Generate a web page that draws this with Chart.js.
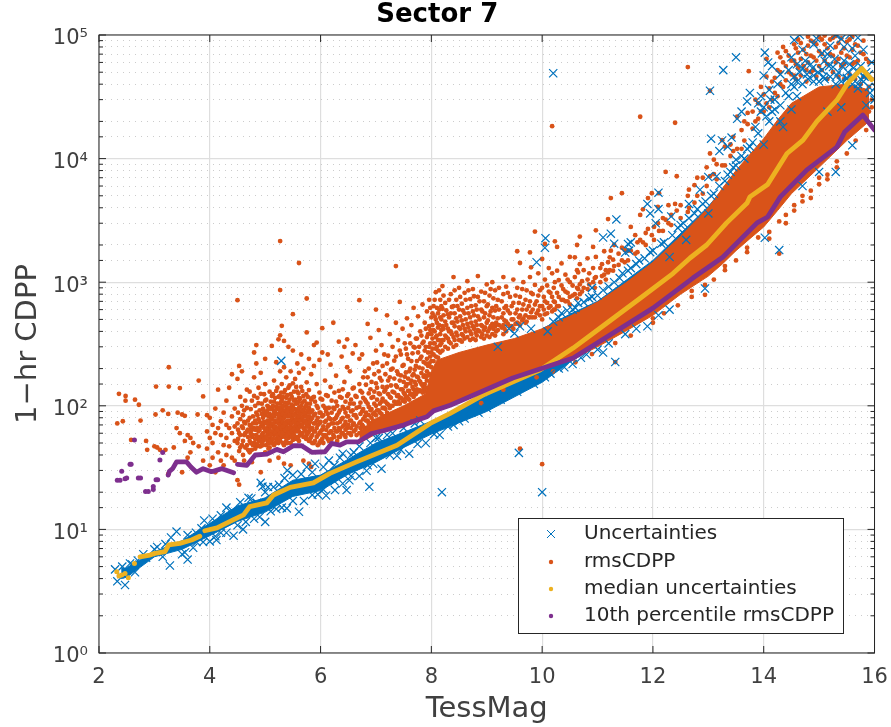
<!DOCTYPE html>
<html>
<head>
<meta charset="utf-8">
<title>Sector 7</title>
<script src="https://cdn.jsdelivr.net/npm/chart.js@4/dist/chart.umd.js"></script>
<style>
html, body { margin: 0; padding: 0; background: #fff; }
canvas { display: block; }
</style>
</head>
<body>
<canvas id="grafico" width="891" height="727"></canvas>
<script>
const legendLabels = ['Uncertainties', 'rmsCDPP', 'median uncertainties', '10th percentile rmsCDPP'];
const yTickLabels = { 1: '10⁰', 10: '10¹', 100: '10²', 1000: '10³', 10000: '10⁴', 100000: '10⁵' };

// median uncertainties
const medianDotsX = [2.32, 2.36, 2.41, 2.47, 2.53, 2.64];
const medianDotsY = [4.55, 4.2, 4.27, 4.4, 4.07, 5.3];
const medianX = [2.74, 2.92, 3.01, 3.19, 3.26, 3.46, 3.67, 3.82, null, 3.91, 4.13, 4.43, 4.61, 4.72, 5.03, 5.15, 5.45, 5.87, 6.17, 6.65, 7.38, 7.98, 8.34, 8.93, 9.96, 10.56, 11.17, 11.77, 12.36, 12.67, 12.97, 13.33, 13.7, 13.75, 14.07, 14.42, 14.71, 14.96, 15.32, 15.5, 15.77, 15.95];
const medianY = [6.0, 6.2, 6.4, 6.6, 7.5, 7.7, 8.2, 8.8, null, 9.75, 10.3, 12, 13.1, 15.3, 16.4, 19, 21.9, 23.8, 28.4, 35.2, 48, 72, 86.7, 122, 195, 293, 468, 741, 1175, 1570, 2000, 3020, 4370, 4900, 6170, 11000, 14100, 20000, 29700, 39800, 53700, 43600];

// 10th percentile rmsCDPP
const percentileDotsX = [2.33, 2.38, 2.41, 2.47, 2.5, 2.56, 2.58, 2.64, 2.71, 2.75, 2.84, 2.89, 2.98, 2.98, 3.03, 3.06, 3.10, 3.15];
const percentileDotsY = [25, 25, 29.6, 25.7, 26, 33.7, 33.7, 52.8, 26, 26, 20.3, 20.3, 21, 22.2, 25.2, 25.2, 36.4, 41.9];
const percentileX = [3.25, 3.27, 3.33, 3.40, 3.58, 3.66, 3.76, 3.88, 4.03, 4.22, 4.43, null, 4.5, 4.67, 4.82, 5.03, 5.21, 5.33, 5.51, 5.66, 5.84, 6.08, 6.2, 6.35, 6.47, 6.68, 6.92, 7.13, 7.5, 7.74, 7.92, 8.04, 8.34, 9.47, 10.56, 12, 12.72, 13.26, 13.88, 14.07, 14.3, 14.78, 15.32, 15.46, 15.79, 16];
const percentileY = [27.5, 29.5, 31, 35.2, 35.2, 32, 29, 31, 29.3, 31, 28.7, null, 33.6, 33, 40, 40.6, 44.4, 42.5, 47.5, 47.5, 42, 42.5, 49.6, 48, 51, 51, 59.7, 62.8, 69.8, 76.6, 81.5, 91, 101, 168, 244, 617, 1080, 1590, 3020, 3370, 4900, 8100, 12400, 16400, 22500, 17000];

// dense core of rmsCDPP
const rmsBandX = [6.7, 7.0, 7.5, 7.9, 8.0, 8.1, 8.5, 9, 9.5, 10, 10.5, 11, 11.5, 12, 12.5, 13, 13.25, 13.5, 13.75, 14, 14.25, 14.5, 15, 15.5, 15.9];
const rmsBandLow = [50, 59, 69, 79, 88, 92, 112, 133, 168, 198, 232, 300, 400, 540, 800, 1120, 1400, 1800, 2250, 2800, 3800, 5200, 8500, 14000, 20000];
const rmsBandHigh = [62, 79, 100, 125, 190, 234, 270, 310, 350, 420, 530, 690, 980, 1450, 2350, 4000, 5700, 8000, 10800, 14500, 20500, 28000, 38000, 40000, 36000];

// dense core of the uncertainties
const errBandX = [2.4, 2.5, 3, 3.5, 4, 4.5, 5, 5.5, 6, 6.5, 7, 7.5, 8, 9, 10, 10.5, 11, 12, 13, 14, 15, 15.9];
const errBandLow = [4, 4.1, 6, 6.9, 8.9, 11.6, 13.8, 18.5, 20.6, 28, 35, 46, 59, 90, 155, 225, 310, 570, 1250, 3200, 10000, 22000];
const errBandHigh = [4.8, 4.9, 6.6, 8.1, 11.2, 15.5, 18, 25, 27.5, 37, 50, 61, 75, 120, 420, 550, 700, 1500, 4100, 14000, 36000, 36000];

// rmsCDPP scatter, columns of [x, y, y, ...]
const rmsColumns = [
  [2.33, 72], [2.36, 125], [2.43, 75], [2.48, 120, 110], [2.58, 53], [2.65, 112], [2.72, 102], [2.75, 76], [2.85, 52], [2.87, 44],
  [3.0, 47], [3.02, 85], [3.03, 143], [3.05, 46], [3.1, 44], [3.15, 92], [3.2, 44], [3.25, 86, 28], [3.26, 205, 143], [3.35, 46], [3.4, 66], [3.42, 88], [3.46, 139, 60], [3.5, 85, 29], [3.55, 83, 52], [3.6, 58, 38], [3.65, 55, 42], [3.7, 50], [3.78, 85], [3.8, 160, 47], [3.88, 119, 36],
  [3.95, 84, 62, 45], [4.0, 80, 55, 33], [4.05, 70, 50, 38], [4.1, 95, 60, 29], [4.15, 135, 66, 42], [4.2, 75, 58, 36], [4.25, 88, 48, 33], [4.3, 110, 70, 55, 40], [4.35, 140, 66, 47], [4.4, 180, 82, 60, 38], [4.45, 95, 68, 52, 36], [4.5, 715, 165, 72, 50, 25], [4.53, 210, 60, 43, 23],
  [4.58, 190, 100, 68, 48], [4.62, 92, 74, 58, 36], [4.67, 135, 96, 62, 48], [4.72, 130, 80, 70, 52, 42], [4.76, 110, 64, 56, 44, 35], [4.8, 270, 170, 120, 66, 50], [4.84, 310, 220, 88, 72, 58, 47], [4.88, 140, 105, 78, 62, 52], [4.92, 185, 125, 68, 56, 47, 29], [4.96, 95, 80, 70, 60, 52, 48], [5.0, 240, 150, 110, 84, 62, 56, 42],
  [5.04, 100, 92, 76, 66, 58, 52], [5.08, 130, 86, 74, 64, 54, 46, 36], [5.12, 305, 120, 96, 78, 70, 60, 50], [5.16, 160, 108, 90, 82, 66, 58, 48], [5.2, 225, 132, 98, 86, 74, 62, 54], [5.24, 345, 118, 94, 80, 72, 66, 56, 50, 38], [5.27, 2150, 864, 372, 190, 104, 88, 76, 62, 52], [5.3, 444, 150, 112, 96, 84, 72, 64, 56], [5.34, 335, 205, 128, 90, 80, 70, 58, 48, 34], [5.38, 170, 116, 98, 86, 74, 68, 60, 52], [5.42, 300, 140, 106, 92, 82, 72, 62, 55],
  [5.46, 190, 124, 96, 88, 76, 70, 58, 50, 33], [5.5, 551, 280, 152, 100, 84, 78, 66, 60, 53], [5.54, 165, 112, 94, 86, 74, 68, 56], [5.58, 220, 130, 105, 90, 80, 72, 64, 54], [5.61, 1430, 185, 116, 96, 84, 76, 62, 52], [5.65, 260, 142, 100, 88, 78, 70, 60], [5.69, 200, 120, 92, 82, 74, 66, 56, 36], [5.75, 738, 392, 155, 104, 88, 76, 68, 58], [5.79, 240, 134, 96, 82, 70, 62, 52, 34], [5.83, 180, 112, 90, 78, 66, 56, 32], [5.88, 310, 210, 118, 84, 72, 62, 50],
  [5.93, 325, 150, 100, 76, 66, 56], [5.98, 235, 128, 88, 72, 60, 50], [6.03, 425, 270, 112, 82, 64, 54], [6.08, 160, 96, 74, 58], [6.13, 260, 120, 86, 68, 54], [6.18, 215, 142, 78, 62], [6.23, 470, 96, 72, 58], [6.28, 175, 108, 80, 62], [6.33, 330, 132, 88, 66, 56],
  [6.38, 250, 116, 78, 60], [6.43, 300, 156, 94, 70, 58], [6.48, 345, 205, 120, 82, 66], [6.53, 190, 104, 76, 60], [6.58, 265, 138, 92, 70], [6.63, 310, 120, 84, 64], [6.7, 715, 240, 150, 98, 72, 60], [6.75, 260, 128, 90, 70], [6.8, 190, 112, 82, 66], [6.85, 460, 170, 104, 76, 66], [6.9, 355, 136, 92, 72],
  [6.95, 220, 118, 86, 76], [7.0, 600, 280, 152, 100, 84], [7.05, 410, 190, 126, 92], [7.1, 310, 160, 108, 86], [7.15, 260, 130, 96, 82], [7.2, 540, 220, 142, 104, 88], [7.25, 380, 170, 118, 96], [7.3, 300, 200, 130, 100], [7.36, 1350, 470, 250, 146, 104], [7.4, 340, 180, 122, 108], [7.43, 692, 280, 160, 116, 104],
  [7.48, 420, 210, 136, 110], [7.52, 320, 172, 124, 108], [7.56, 510, 260, 150, 118], [7.6, 370, 190, 132, 112], [7.64, 450, 230, 160, 124], [7.68, 620, 300, 180, 136, 118], [7.72, 350, 210, 148, 124], [7.76, 530, 270, 170, 130], [7.8, 400, 240, 156, 132], [7.84, 660, 320, 200, 146, 128], [7.88, 470, 280, 176, 150, 130], [7.92, 580, 360, 240, 190, 160],
  [7.96, 720, 440, 300, 220, 180], [8.0, 520, 380, 270, 230, 205], [8.04, 640, 410, 320, 260, 230], [8.08, 830, 500, 360, 290, 250], [8.12, 560, 430, 340, 280, 245], [8.16, 720, 520, 380, 310, 270], [8.2, 930, 610, 440, 340, 280], [8.25, 680, 480, 370, 300], [8.3, 550, 420, 350, 290], [8.35, 800, 560, 400, 320], [8.4, 1100, 640, 470, 360, 300], [8.45, 720, 510, 390, 310], [8.5, 900, 600, 430, 340],
  [8.55, 670, 490, 380, 330], [8.6, 820, 560, 420, 350], [8.65, 1020, 620, 460, 360], [8.7, 730, 520, 400, 340], [8.75, 880, 580, 440, 350], [8.8, 650, 480, 390, 340], [8.84, 1120, 760, 530, 410], [8.9, 840, 600, 450, 360], [8.95, 700, 520, 410, 350], [9.0, 960, 640, 470, 370], [9.05, 780, 540, 420, 360], [9.1, 1000, 620, 460, 380], [9.15, 860, 590, 440, 370], [9.2, 720, 510, 410], [9.3, 1100, 800, 560, 450, 380], [9.35, 920, 640, 480, 400], [9.42, 760, 560, 440],
  [9.48, 1050, 680, 500, 420], [9.55, 1780, 900, 600, 470], [9.6, 1430, 760, 540, 450], [9.66, 1000, 660, 510], [9.72, 860, 600, 480], [9.78, 1740, 1100, 700, 520], [9.8, 1320, 820, 570], [9.87, 2570, 950, 660, 520], [9.93, 1180, 780, 590], [10.0, 1540, 900, 640, 500], [10.05, 2040, 1050, 700, 550], [10.12, 1300, 840, 620], [10.18, 18300, 1180, 760, 580], [10.23, 2140, 1000, 690, 600], [10.27, 1930, 1240, 820, 640], [10.35, 1420, 940, 720], [10.42, 1150, 840, 700], [10.5, 1600, 1000, 760, 660],
  [10.59, 1590, 1100, 800], [10.63, 2000, 1250, 900, 740], [10.68, 2340, 1400, 960, 800], [10.75, 1250, 900], [10.82, 1560, 1050, 880], [10.92, 1930, 1300, 1000], [10.97, 2630, 1600, 1100], [11.05, 1300, 1000], [11.12, 1780, 1150], [11.19, 3240, 1450, 1200], [11.22, 1590, 1250], [11.24, 4790, 1800], [11.3, 2000, 1350], [11.44, 5250, 1900, 1500], [11.49, 1820, 1450], [11.6, 2800, 1800], [11.68, 2400, 1700],
  [11.77, 21800, 3500, 2200], [11.82, 3890, 2100], [11.91, 4790, 2700], [11.98, 5250, 2400], [12.09, 4070, 3000], [12.11, 5250, 2600], [12.23, 7800, 3200], [12.33, 3500, 2900], [12.4, 19500, 4300], [12.43, 7200, 3800], [12.63, 55000, 5000, 3700], [12.75, 6100, 4400], [12.9, 7000, 5200],
  [13.03, 35400, 11000, 7200], [13.15, 9000, 6800], [13.25, 14100, 8800], [13.4, 13000, 10500], [13.52, 21800, 12000], [13.6, 17000, 12000], [13.71, 23400, 19000], [13.73, 51000], [13.85, 30000, 20000], [13.95, 38000, 24000], [14.05, 64000, 46000, 28000], [14.15, 42000, 30000], [14.25, 72000, 52000, 32000], [14.35, 80000, 60000, 38000], [14.45, 68000, 50000], [14.55, 84000, 62000, 47000], [14.62, 92000, 72000, 54000], [14.72, 76000, 56000], [14.8, 97000, 82000, 60000], [14.9, 88000, 66000, 52000], [15.0, 96000, 74000, 56000], [15.1, 99000, 84000, 62000], [15.2, 92000, 70000], [15.3, 98000, 80000, 60000], [15.4, 94000, 72000, 56000], [15.5, 88000, 68000], [15.6, 97000, 76000, 58000], [15.7, 82000, 62000], [15.8, 90000, 70000, 46000], [15.9, 60000, 38000, 24000],
  // just below the 10th percentile curve
  [8.9, 105], [9.3, 135], [9.9, 170], [10.2, 190], [10.6, 225], [10.9, 262], [11.32, 226, 322], [11.6, 370], [12.0, 470, 510], [12.2, 560], [12.45, 650], [12.7, 760, 850], [12.94, 790, 950], [13.1, 1050], [13.3, 1250, 1350], [13.5, 1500], [13.7, 1750, 1900], [13.9, 2300], [14.1, 2550, 2250], [14.28, 1700, 3100], [14.4, 3500, 3000], [14.55, 3800, 4200], [14.7, 4500, 5000], [14.85, 5500, 4800], [15.0, 6200, 7000], [15.15, 7400, 6800], [15.32, 8500, 9500], [15.5, 11000], [15.66, 14000], [15.85, 17000, 20000],
  [9.6, 45], [10.0, 33.7]
];

// the crowded parts of the rmsCDPP cloud
const rmsCloudColumns = [
  [4.51, 88, 64, 54], [4.55, 118, 78, 58, 46], [4.6, 84, 66, 52, 40], [4.64, 110, 72, 60, 46], [4.69, 76, 64, 56, 44], [4.74, 94, 68, 60, 50], [4.78, 82, 72, 58, 48], [4.82, 100, 76, 64, 54, 45], [4.86, 116, 84, 66, 56, 49], [4.9, 92, 74, 64, 54, 47], [4.94, 104, 86, 72, 58, 50], [4.98, 124, 90, 74, 66, 54],
  [5.02, 112, 88, 72, 64, 56, 48], [5.06, 98, 82, 70, 60, 50, 45], [5.1, 108, 94, 80, 68, 58, 52], [5.14, 124, 100, 84, 72, 62, 54], [5.18, 116, 92, 76, 68, 60, 50], [5.22, 140, 104, 86, 76, 64, 58, 52], [5.26, 120, 96, 84, 70, 60, 54], [5.29, 128, 108, 90, 78, 66, 58], [5.32, 118, 100, 86, 74, 68, 60, 50], [5.36, 134, 106, 92, 82, 72, 64, 56], [5.4, 122, 104, 90, 76, 66, 58, 50], [5.44, 146, 112, 96, 84, 74, 66, 60],
  [5.48, 118, 102, 90, 80, 72, 62, 56], [5.52, 130, 110, 94, 84, 74, 64, 58], [5.56, 142, 104, 92, 78, 70, 62, 54], [5.6, 126, 108, 90, 82, 72, 66, 56], [5.63, 114, 98, 86, 76, 68, 58], [5.67, 132, 106, 92, 80, 70, 60], [5.71, 110, 96, 86, 76, 64, 56], [5.74, 124, 100, 82, 72, 62, 54], [5.77, 118, 92, 80, 68, 60], [5.81, 104, 88, 74, 64, 54], [5.85, 116, 92, 80, 66, 58, 50], [5.9, 108, 86, 72, 62, 52], [5.95, 96, 80, 70, 58, 48], [6.0, 114, 88, 74, 62, 52],
  [6.05, 100, 84, 68, 58, 50], [6.1, 122, 90, 76, 64, 56], [6.15, 96, 80, 70, 60, 52], [6.2, 110, 88, 72, 62, 54], [6.25, 128, 94, 78, 66, 56], [6.3, 100, 84, 72, 62, 52], [6.35, 118, 92, 74, 64, 56], [6.4, 136, 98, 80, 68, 60], [6.45, 108, 88, 74, 64, 56], [6.5, 124, 96, 82, 70, 60], [6.55, 112, 90, 76, 66, 58], [6.6, 140, 104, 84, 72, 62], [6.65, 118, 96, 80, 68, 58],
  [6.72, 132, 106, 86, 74, 66], [6.77, 170, 116, 94, 78, 68], [6.82, 148, 108, 88, 76], [6.87, 200, 126, 98, 84, 72], [6.92, 156, 116, 94, 80], [6.97, 180, 130, 104, 88], [7.02, 224, 140, 112, 92], [7.07, 168, 124, 104, 88], [7.12, 210, 142, 114, 96], [7.17, 180, 134, 108, 94], [7.22, 254, 160, 124, 102], [7.27, 196, 146, 116, 100], [7.33, 232, 166, 128, 108], [7.38, 190, 142, 120, 104], [7.45, 260, 176, 136, 116], [7.5, 214, 156, 128, 112], [7.54, 290, 186, 144, 118], [7.58, 240, 166, 132, 114], [7.62, 320, 200, 152, 124], [7.66, 266, 176, 142, 122], [7.7, 296, 196, 156, 128], [7.74, 350, 230, 172, 136], [7.78, 300, 204, 160, 134], [7.82, 370, 250, 184, 150, 132], [7.86, 330, 226, 172, 140], [7.9, 420, 300, 220, 170, 140], [7.94, 380, 270, 210, 176],
  [7.98, 620, 410, 320, 250], [8.02, 560, 450, 350, 290], [8.06, 720, 530, 400, 320], [8.1, 620, 470, 370, 300], [8.14, 860, 600, 450, 340], [8.18, 640, 500, 410, 320], [8.22, 780, 540, 420, 340], [8.27, 590, 450, 360], [8.32, 720, 520, 400, 330], [8.37, 630, 470, 380], [8.42, 860, 560, 440, 340], [8.47, 640, 480, 370], [8.52, 760, 530, 420, 340], [8.57, 590, 450, 370], [8.62, 720, 500, 400], [8.67, 860, 560, 430], [8.72, 640, 470, 380], [8.77, 770, 540, 420], [8.82, 600, 450, 370], [8.87, 700, 500, 400], [8.92, 580, 440, 380], [8.97, 820, 560, 430], [9.02, 660, 490, 400], [9.07, 880, 580, 440], [9.12, 740, 520, 420], [9.17, 640, 470, 400], [9.22, 900, 600, 450], [9.27, 700, 520, 430], [9.32, 620, 490, 420], [9.38, 820, 590, 460],
  [9.45, 640, 500, 440], [9.52, 780, 560, 460], [9.58, 680, 520, 460], [9.64, 880, 600, 490], [9.7, 720, 540, 470], [9.76, 640, 520], [9.83, 800, 600, 520], [9.9, 700, 560], [9.96, 860, 640, 540], [10.03, 760, 600], [10.09, 940, 680, 560], [10.15, 820, 640], [10.21, 900, 700, 600], [10.3, 1040, 760, 640], [10.38, 880, 720], [10.46, 1050, 820, 700], [10.55, 940, 780], [10.65, 1200, 880], [10.72, 1020, 840], [10.85, 1180, 960], [10.95, 1080, 900], [11.08, 1400, 1120], [11.15, 1250, 1050], [11.28, 1520, 1240], [11.38, 1700, 1380], [11.55, 1800, 1500], [11.72, 2100, 1750], [11.87, 2500, 2000], [12.02, 2800, 2200], [12.18, 3300, 2600], [12.28, 4200, 3000], [12.5, 4200, 3300], [12.65, 5600, 4000], [12.8, 7000, 5000], [12.97, 8500, 6000], [13.1, 9800, 7500], [13.3, 12500, 8800], [13.45, 15000, 11500], [13.65, 20000, 14000], [13.8, 24000, 17500], [13.9, 28000, 21000], [14.0, 33000, 24000], [14.1, 37000, 26000], [14.2, 45000, 34000],
  [14.3, 66000, 50000, 40000], [14.4, 74000, 56000, 43000], [14.5, 62000, 48000], [14.58, 78000, 58000, 44000], [14.67, 86000, 64000, 47000], [14.77, 70000, 52000, 42000], [14.85, 90000, 68000, 50000], [14.95, 84000, 62000, 46000], [15.05, 92000, 70000, 52000], [15.15, 78000, 58000, 44000], [15.25, 95000, 68000, 50000], [15.35, 86000, 64000, 46000], [15.45, 78000, 58000, 44000], [15.55, 92000, 66000, 48000], [15.65, 84000, 60000, 44000], [15.75, 72000, 52000, 40000], [15.85, 64000, 46000, 30000], [15.95, 44000, 30000, 26000]
];

// Uncertainties scatter, pairs [x, y]
const errPoints = [
  [10.2, 49000], [8.19, 20], [10, 20], [9.58, 41.6], [5.29, 231], [4.92, 23.8], [4.95, 22.2], [6.88, 22.1], [6.47, 20.8], [6.26, 20.8], [6.52, 25], [6.83, 29.8], [7.38, 39.4], [5.61, 13.9], [5.39, 14.8], [4.43, 8.9], [3.28, 5.1], [3.6, 5.7], [3.4, 9.6], [2.65, 4.5], [2.47, 3.55], [2.33, 3.8], [2.56, 5.3], [2.29, 4.75], [3.88, 7.9], [3.76, 7.9], [4.12, 8.2], [3.55, 6.5], [3.15, 6], [2.85, 5.9],
  [11.32, 226], [14.28, 1820], [12.94, 890], [14.02, 2290], [13.03, 35400], [10.06, 2270], [10.05, 1900], [9.9, 1450], [11.1, 2300], [11.34, 3220], [11.24, 2470], [11.3, 2050], [11.5, 1740], [11.55, 2040], [11.57, 1800], [11.6, 2100], [11.9, 4300], [11.95, 3600], [12.05, 3000], [12.1, 3900], [12.33, 3400], [12.55, 3000], [12.65, 4300], [13.0, 7100], [13.05, 14500], [13.2, 11500], [13.25, 14000], [13.35, 12500], [13.42, 14800], [13.6, 24000], [13.7, 29000], [13.52, 21000], [13.75, 34000], [14.0, 47000],
  [13.4, 7800], [13.65, 10000], [14.0, 13000], [14.15, 24000], [14.2, 30000], [14.3, 20000], [13.9, 28000], [13.95, 32000], [12.1, 5300], [12.85, 5600], [13.15, 7200], [13.5, 9800], [13.75, 12500],
  [13.27, 52000], [13.5, 66000], [14.02, 72000], [14.08, 60000], [14.15, 56000], [14.5, 66000], [14.6, 58000], [14.7, 76000], [14.75, 62000], [14.9, 84000], [14.95, 94000], [15.05, 71000], [15.2, 82000], [15.3, 100000], [15.4, 93000], [15.55, 100000], [15.6, 78000], [15.7, 95000], [15.8, 76000], [15.95, 60000], [16.02, 38000], [16.0, 30000], [15.85, 50000], [15.7, 37000], [15.5, 45000], [14.9, 47000], [14.5, 40000], [14.3, 48000], [14.65, 100000], [14.55, 91000], [15.1, 62000], [15.25, 55000], [15.35, 50000], [15.45, 62000], [15.92, 34000], [15.75, 44000],
  [14.0, 26000], [14.35, 18000], [14.5, 25000], [14.6, 32000], [15.6, 40000], [15.15, 24000], [15.4, 26000], [15.85, 27000], [14.7, 6000], [15.0, 7800], [15.3, 7800], [15.6, 12800], [12.6, 2200], [13.0, 3600], [12.3, 1600], [10.3, 520], [10.6, 620], [10.9, 900], [9.8, 420], [9.5, 385], [9.2, 300], [10.1, 400],
  [9.4, 135], [9.1, 108], [8.7, 92], [8.5, 75], [8.3, 68], [9.7, 150], [10.05, 170], [10.4, 205], [10.8, 260], [11.1, 270], [11.5, 380], [11.9, 440], [12.3, 600],
  [5.05, 22], [5.4, 30], [5.75, 32], [5.9, 34], [6.15, 36], [6.4, 41], [6.7, 47], [7, 55], [7.2, 58], [7.7, 72], [4.7, 18], [4.3, 15], [3.9, 11.8], [3.3, 8.6], [3.0, 6.9], [2.7, 5.6], [4.6, 10], [5, 11.5], [5.3, 15], [5.7, 17], [6.1, 18.8], [6.4, 23.5], [6.7, 27], [7.1, 31], [7.6, 41], [7.9, 50], [8.15, 58], [3.5, 6.3], [3.7, 7.1], [4, 8], [4.3, 9.4], [4.8, 12.2],
  // edges of the blue band
  [2.42, 5], [2.6, 5.2], [2.8, 6.3], [3.05, 7.2], [3.2, 7.6], [3.6, 9], [3.75, 9.4], [3.85, 10.2], [4.05, 12.2], [4.2, 13], [4.4, 14.2], [4.55, 16.6], [4.75, 17.8], [4.85, 16.4], [5.0, 20], [5.15, 22], [5.25, 23], [5.35, 26], [5.5, 27.5], [5.65, 28], [5.85, 29], [6.05, 32], [6.25, 33], [6.35, 38], [6.55, 40], [6.6, 42], [6.9, 50], [7.05, 55], [7.3, 60], [7.5, 66], [7.8, 76],
  [4.1, 8.8], [4.2, 9.4], [4.5, 10.8], [4.65, 11.5], [4.9, 12.6], [5.1, 14], [5.2, 14.6], [5.5, 17], [5.85, 19], [5.95, 19.2], [6.05, 21], [6.25, 24.5], [6.55, 27], [6.85, 33], [6.95, 34], [7.25, 40], [7.45, 44], [7.75, 49], [8.05, 59], [8.4, 70], [8.6, 79], [8.85, 88], [9.0, 96], [9.25, 112], [9.55, 130], [9.85, 150], [10.15, 182], [10.3, 200], [10.55, 218], [10.7, 245], [11.0, 285], [11.2, 320], [11.7, 420], [12.1, 540],
  [9.4, 420], [9.6, 440], [10.2, 480], [10.45, 590], [10.75, 690], [10.9, 760], [11.1, 860], [11.3, 1000], [11.45, 1180], [11.6, 1300], [11.75, 1500], [11.95, 1750], [12.15, 2050], [12.45, 2750], [12.75, 3600], [12.95, 4500], [13.1, 5200], [13.3, 6600], [13.45, 8500], [13.6, 10500], [13.8, 13500], [13.85, 18000], [14.05, 22000], [14.2, 25000], [14.4, 34000], [14.6, 42000], [14.8, 44000], [15.0, 42000], [15.2, 46000], [15.4, 42000], [15.6, 47000], [15.8, 42000],
  [14.7, 54000], [14.85, 58000], [15.05, 52000], [15.15, 70000], [15.28, 64000], [15.45, 80000], [15.55, 58000], [15.65, 68000], [15.75, 56000], [15.9, 48000], [14.45, 52000], [14.25, 40000], [14.1, 36000], [13.95, 24000], [14.12, 30000],
  // heavier blue along the top of the core
  [10.35, 560], [10.55, 600], [10.65, 680], [10.85, 740], [11.0, 780], [11.2, 920], [11.4, 1080], [11.55, 1240], [11.7, 1400], [11.85, 1560], [12.0, 1800], [12.2, 2100], [12.35, 2400], [12.5, 2900], [12.65, 3300], [12.8, 3900], [12.9, 4300], [13.05, 5000], [13.2, 6000], [13.35, 7400], [13.5, 8800], [13.7, 12000], [13.9, 16000], [14.1, 20000], [14.3, 27000], [14.45, 32000], [14.55, 38000], [14.7, 40000], [14.9, 42000], [15.1, 44000], [15.3, 40000], [15.5, 44000], [15.7, 40000], [15.9, 38000],
  [14.55, 46000], [14.65, 50000], [14.78, 48000], [14.88, 54000], [14.98, 50000], [15.08, 46000], [15.18, 56000], [15.32, 47000], [15.42, 56000], [15.52, 50000], [15.62, 54000], [15.72, 50000], [15.82, 46000]
];

const flattenColumns = columns => columns.flatMap(([x, ...ys]) => ys.map(y => ({ x, y })));
const zipXY = (xs, ys) => xs.map((x, i) => ({ x, y: ys[i] }));

const azul = '#0072BD';
const laranja = '#D95319';
const amarelo = '#EDB120';
const roxo = '#7E2F8E';

const bandStyle = color => ({ showLine: true, pointRadius: 0, borderWidth: 1, borderColor: color, backgroundColor: color, tension: 0 });
const curveStyle = color => ({ showLine: true, spanGaps: false, borderColor: color, backgroundColor: color, borderWidth: 4.8, pointRadius: 0, borderJoinStyle: 'round', borderCapStyle: 'round' });
const dotStyle = color => ({ pointRadius: 2.5, borderWidth: 0, backgroundColor: color });

// inward ticks and the box round the axes, from the library's scales
const moldura = {
  id: 'moldura',
  afterDraw(chart) {
    const { ctx, chartArea: a, scales: { x, y } } = chart;
    ctx.save();
    ctx.strokeStyle = '#262626';
    ctx.lineWidth = 1;
    ctx.strokeRect(a.left, a.top, a.right - a.left, a.bottom - a.top);
    ctx.beginPath();
    x.ticks.forEach(t => {
      const px = x.getPixelForValue(t.value);
      ctx.moveTo(px, a.bottom); ctx.lineTo(px, a.bottom - 7);
      ctx.moveTo(px, a.top); ctx.lineTo(px, a.top + 7);
    });
    y.ticks.forEach(t => {
      const py = y.getPixelForValue(t.value);
      const len = yTickLabels[t.value] ? 7 : 4;
      ctx.moveTo(a.left, py); ctx.lineTo(a.left + len, py);
      ctx.moveTo(a.right, py); ctx.lineTo(a.right - len, py);
    });
    ctx.stroke();
    ctx.restore();
  }
};

const legenda = {
  id: 'legenda',
  afterDraw(chart) {
    const { ctx } = chart;
    const cores = [azul, laranja, amarelo, roxo];
    const linhas = [534, 562, 589, 616];
    ctx.save();
    ctx.fillStyle = '#fff';
    ctx.fillRect(518, 518, 325, 115);
    ctx.strokeStyle = '#262626';
    ctx.lineWidth = 1;
    ctx.strokeRect(518.5, 518.5, 325, 115);
    ctx.font = '20px "DejaVu Sans"';
    ctx.textBaseline = 'middle';
    legendLabels.forEach((label, i) => {
      ctx.fillStyle = '#262626';
      ctx.fillText(label, 584, linhas[i]);
      ctx.fillStyle = cores[i];
      ctx.strokeStyle = cores[i];
      if (i === 0) {
        ctx.beginPath();
        ctx.moveTo(547, linhas[i] - 4); ctx.lineTo(555, linhas[i] + 4);
        ctx.moveTo(555, linhas[i] - 4); ctx.lineTo(547, linhas[i] + 4);
        ctx.stroke();
      } else {
        ctx.beginPath();
        ctx.arc(551, linhas[i], 2.2, 0, Math.PI * 2);
        ctx.fill();
      }
    });
    ctx.restore();
  }
};

new Chart(document.getElementById('grafico').getContext('2d'), {
  type: 'scatter',
  plugins: [moldura, legenda],
  data: {
    datasets: [
      { label: 'median uncertainties', data: zipXY(medianX, medianY), ...curveStyle(amarelo), order: 2 },
      { label: 'median uncertainties dots', data: zipXY(medianDotsX, medianDotsY), ...dotStyle(amarelo), order: 2 },
      { label: '10th percentile rmsCDPP', data: zipXY(percentileX, percentileY), ...curveStyle(roxo), order: 1 },
      { label: '10th percentile dots', data: zipXY(percentileDotsX, percentileDotsY), ...dotStyle(roxo), order: 1 },
      { label: legendLabels[0], data: errPoints.map(([x, y]) => ({ x, y })), pointStyle: 'crossRot', pointRadius: 5.8, borderWidth: 1.2, borderColor: azul, backgroundColor: azul, order: 3 },
      { label: legendLabels[1], data: flattenColumns(rmsColumns.concat(rmsCloudColumns)), pointRadius: 2.4, borderWidth: 0, backgroundColor: laranja, order: 4 },
      { label: 'rms core low', data: zipXY(rmsBandX, rmsBandLow), ...bandStyle(laranja), fill: '+1', order: 5 },
      { label: 'rms core high', data: zipXY(rmsBandX, rmsBandHigh), ...bandStyle(laranja), order: 5 },
      { label: 'err core low', data: zipXY(errBandX, errBandLow), ...bandStyle(azul), fill: '+1', order: 6 },
      { label: 'err core high', data: zipXY(errBandX, errBandHigh), ...bandStyle(azul), order: 6 }
    ]
  },
  options: {
    responsive: false,
    animation: false,
    layout: { padding: { top: 0, right: 16.5, bottom: 0, left: 0 } },
    plugins: {
      legend: { display: false },
      tooltip: { enabled: false },
      title: {
        display: true,
        text: 'Sector 7',
        color: '#000',
        font: { family: 'DejaVu Sans', size: 26, weight: 'bold' },
        padding: { top: 0, bottom: 3.8 }
      }
    },
    scales: {
      x: {
        type: 'linear',
        min: 2,
        max: 16,
        afterFit: s => { s.height = 74; s.paddingLeft = 0; s.paddingRight = 0; },
        ticks: { stepSize: 2, color: '#404040', padding: 12, maxRotation: 0, font: { family: 'DejaVu Sans', size: 21 } },
        grid: { color: '#dedede', lineWidth: 1.2, drawTicks: false },
        border: { display: false },
        title: { display: true, text: 'TessMag', color: '#404040', padding: { top: 0, bottom: 0 }, font: { family: 'DejaVu Sans', size: 29 } }
      },
      y: {
        type: 'logarithmic',
        min: 1,
        max: 100000,
        afterFit: s => { s.width = 99; s.paddingTop = 0; s.paddingBottom = 0; },
        ticks: {
          autoSkip: false,
          color: '#404040',
          padding: 11,
          labelOffset: 4,
          font: { family: 'DejaVu Sans', size: 21 },
          callback: v => yTickLabels[v] || ''
        },
        grid: {
          drawTicks: false,
          lineWidth: c => (yTickLabels[c.tick.value] ? 1.2 : 1),
          color: c => (yTickLabels[c.tick.value] ? '#dedede' : '#cccccc')
        },
        border: { display: false, dash: c => (c.tick && yTickLabels[c.tick.value] ? [] : [1, 5]) },
        title: { display: true, text: '1−hr CDPP', color: '#404040', padding: { top: 10.6, bottom: 0 }, font: { family: 'DejaVu Sans', size: 29 } }
      }
    }
  }
});
</script>
</body>
</html>
